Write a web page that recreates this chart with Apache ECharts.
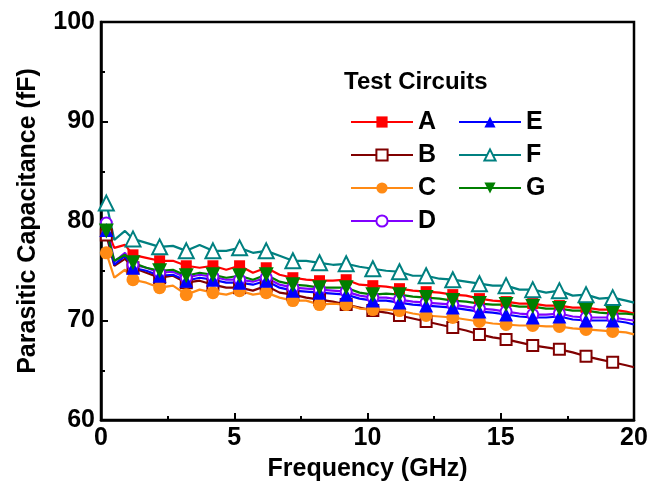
<!DOCTYPE html>
<html>
<head>
<meta charset="utf-8">
<script src="https://cdn.jsdelivr.net/npm/echarts/dist/echarts.min.js"></script>
<style>
  html, body { margin: 0; padding: 0; background: #fff; }
  #chart { width: 652px; height: 487px; }
</style>
</head>
<body>
<div id="chart"></div>
<script>
// frequency points (GHz); markers sit on the x.2 points
const freq = [0.2, 0.5, 0.9, 1.2, 1.7, 2.2, 2.7, 3.2, 3.7, 4.2, 4.7, 5.2, 5.7, 6.2, 6.7, 7.2, 7.7, 8.2, 8.7, 9.2,
  9.7, 10.2, 10.7, 11.2, 11.7, 12.2, 12.7, 13.2, 13.7, 14.2, 14.7, 15.2, 15.7, 16.2, 16.7, 17.2, 17.7, 18.2, 18.7, 19.2, 19.7, 20];

const capA = [79.3, 77.3, 77.6, 76.6, 76.3, 76.0, 76.0, 75.5, 75.3, 75.5, 75.1, 75.5, 74.8, 75.3, 74.6, 74.3, 74.1, 74.0, 74.0, 74.1,
  73.6, 73.5, 73.4, 73.2, 73.0, 72.9, 72.8, 72.6, 72.5, 72.2, 72.0, 71.9, 71.7, 71.7, 71.5, 71.5, 71.3, 71.3, 71.1, 71.1, 70.9, 70.7];
const capB = [78.6, 75.5, 76.2, 75.3, 74.8, 74.3, 74.5, 73.8, 74.0, 73.6, 73.3, 73.3, 73.0, 73.5, 72.8, 72.6, 72.3, 72.1, 71.9, 71.6,
  71.3, 71.0, 70.8, 70.5, 70.2, 69.9, 69.6, 69.3, 69.0, 68.6, 68.3, 68.1, 67.8, 67.5, 67.3, 67.1, 66.8, 66.4, 66.1, 65.8, 65.5, 65.3];
const capC = [76.8, 74.3, 75.1, 74.1, 73.8, 73.3, 73.5, 72.6, 73.1, 72.8, 72.6, 73.0, 72.6, 72.8, 72.3, 72.0, 72.0, 71.6, 71.7, 71.6,
  71.2, 71.1, 71.1, 71.0, 70.7, 70.5, 70.4, 70.3, 70.1, 69.9, 69.7, 69.6, 69.5, 69.5, 69.4, 69.4, 69.2, 69.1, 69.0, 68.9, 68.8, 68.6];
const capD = [79.8, 75.9, 76.8, 75.6, 75.3, 74.8, 74.9, 74.3, 74.6, 74.4, 74.1, 74.1, 73.9, 74.3, 73.6, 73.3, 73.2, 73.1, 73.0, 72.9,
  72.5, 72.3, 72.3, 72.1, 71.9, 71.8, 71.7, 71.6, 71.4, 71.2, 71.1, 70.9, 70.7, 70.6, 70.6, 70.7, 70.4, 70.3, 70.3, 70.3, 70.1, 70.0];
const capE = [79.1, 75.6, 76.5, 75.3, 75.0, 74.5, 74.6, 74.0, 74.3, 74.1, 73.8, 73.8, 73.6, 74.0, 73.3, 73.0, 72.9, 72.8, 72.7, 72.6,
  72.2, 72.0, 72.0, 71.8, 71.6, 71.5, 71.4, 71.3, 71.1, 70.9, 70.8, 70.6, 70.4, 70.3, 70.3, 70.4, 70.1, 70.0, 70.0, 70.0, 69.8, 69.6];
const capF = [81.8, 78.1, 79.0, 78.2, 77.8, 77.4, 77.5, 77.0, 77.6, 77.0, 77.0, 77.3, 76.8, 77.0, 76.5, 76.0, 76.0, 75.8, 75.6, 75.7,
  75.4, 75.2, 75.0, 74.9, 74.5, 74.5, 74.2, 74.1, 73.9, 73.7, 73.5, 73.5, 73.1, 73.1, 72.8, 73.0, 72.5, 72.6, 72.2, 72.3, 72.0, 71.8];
const capG = [79.0, 76.0, 76.6, 75.8, 75.3, 75.0, 75.1, 74.5, 74.8, 74.6, 74.3, 74.5, 74.1, 74.6, 73.9, 73.6, 73.5, 73.3, 73.3, 73.3,
  72.8, 72.6, 72.7, 72.6, 72.4, 72.3, 72.2, 72.0, 71.9, 71.7, 71.6, 71.6, 71.4, 71.4, 71.2, 71.2, 71.0, 71.0, 70.8, 70.7, 70.7, 70.6];

const names = ['A', 'B', 'C', 'D', 'E', 'F', 'G'];
const xTicks = [0, 5, 10, 15, 20];
const yTicks = [60, 70, 80, 90, 100];

const FONT = '"Liberation Sans", Arial, sans-serif';
const triDown = 'path://M0,0 L10,0 L5,9 Z';

function isMarker(x) {
  const d = x - 0.2;
  return Math.abs(d - Math.round(d)) < 1e-6;
}

function pts(vals) {
  return freq.map((x, i) => isMarker(x) ? [x, vals[i]] : {value: [x, vals[i]], symbol: 'none'});
}

function mkSeries(name, vals, color, symbol, size, hollow) {
  return {
    name: name,
    type: 'line',
    data: pts(vals),
    symbol: symbol,
    symbolSize: size,
    showSymbol: true,
    lineStyle: {color: color, width: 2.2},
    itemStyle: hollow
      ? {color: '#fff', borderColor: color, borderWidth: 2}
      : {color: color, borderWidth: 0},
    emphasis: {disabled: true},
    animation: false
  };
}

const chart = echarts.init(document.getElementById('chart'));

const legendText = {fontFamily: FONT, fontWeight: 'bold', fontSize: 25, color: '#000', lineHeight: 26};

const option = {
  backgroundColor: '#fff',
  title: {
    text: 'Test Circuits',
    left: 344, top: 70, padding: 0,
    textStyle: {fontFamily: FONT, fontWeight: 'bold', fontSize: 24, color: '#000'}
  },
  legend: [
    {
      data: names.slice(0, 4),
      orient: 'vertical', left: 345, top: 104,
      itemWidth: 62, itemHeight: 14, itemGap: 7,
      textStyle: legendText
    },
    {
      data: names.slice(4),
      orient: 'vertical', left: 453, top: 104,
      itemWidth: 62, itemHeight: 14, itemGap: 7,
      textStyle: legendText
    }
  ],
  grid: {
    left: 101, right: 18, top: 22, bottom: 66,
    show: true, borderColor: '#000', borderWidth: 2.5
  },
  xAxis: {
    type: 'value',
    min: xTicks[0], max: xTicks[xTicks.length - 1], interval: 5,
    name: 'Frequency (GHz)',
    nameLocation: 'middle', nameGap: 37,
    nameTextStyle: {fontFamily: FONT, fontWeight: 'bold', fontSize: 25, color: '#000'},
    axisLine: {lineStyle: {color: '#000', width: 2.5}},
    axisTick: {inside: true, length: 7, lineStyle: {width: 2}},
    minorTick: {show: true, splitNumber: 2, length: 4, lineStyle: {color: '#000', width: 2}},
    splitLine: {show: false},
    axisLabel: {
      margin: 6,
      fontFamily: FONT, fontWeight: 'bold', fontSize: 25, color: '#000',
      formatter: v => xTicks.includes(v) ? String(v) : ''
    }
  },
  yAxis: {
    type: 'value',
    min: yTicks[0], max: yTicks[yTicks.length - 1], interval: 10,
    name: 'Parasitic Capacitance (fF)',
    nameLocation: 'middle', nameGap: 60,
    nameTextStyle: {fontFamily: FONT, fontWeight: 'bold', fontSize: 25, color: '#000'},
    axisLine: {show: true, lineStyle: {color: '#000', width: 2.5}},
    axisTick: {show: true, inside: true, length: 7, lineStyle: {width: 2}},
    minorTick: {show: true, splitNumber: 2, length: 4, lineStyle: {color: '#000', width: 2}},
    splitLine: {show: false},
    axisLabel: {
      margin: 6,
      fontFamily: FONT, fontWeight: 'bold', fontSize: 25, color: '#000',
      formatter: v => yTicks.includes(v) ? String(v) : ''
    }
  },
  series: [
    mkSeries('A', capA, '#ff0000', 'rect', 11, false),
    mkSeries('B', capB, '#800000', 'rect', 11, true),
    mkSeries('C', capC, '#ff8a14', 'circle', 13, false),
    mkSeries('D', capD, '#8000ff', 'circle', 11, true),
    mkSeries('E', capE, '#0000ff', 'triangle', 14, false),
    mkSeries('F', capF, '#008080', 'triangle', 15, true),
    mkSeries('G', capG, '#007f00', triDown, 15, false)
  ]
};

chart.setOption(option);
</script>
</body>
</html>
